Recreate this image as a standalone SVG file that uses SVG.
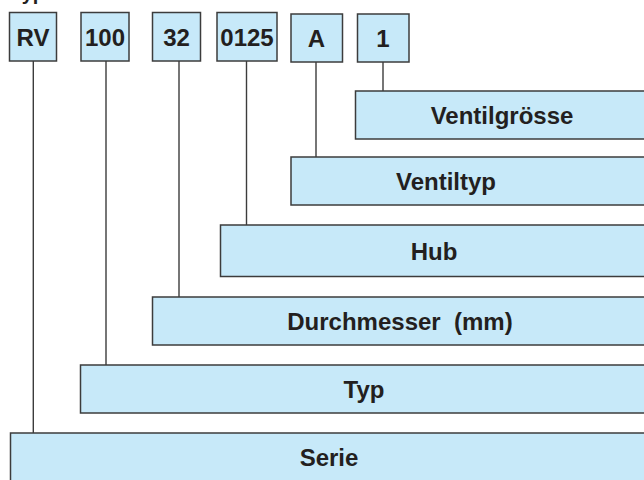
<svg xmlns="http://www.w3.org/2000/svg" width="644" height="480" viewBox="0 0 644 480">
<style>
.box{fill:#c7e9f9;stroke:#3c3c3c;stroke-width:1.5}
.ln{stroke:#3c3c3c;stroke-width:1.4;fill:none}
.t{font-family:"Liberation Sans",Arial,sans-serif;font-weight:bold;fill:#231f20;text-anchor:middle}
.code{font-size:24px}
.lab{font-size:24px}
</style>
<rect width="644" height="480" fill="#ffffff"/>
<text class="t" x="11" y="0" style="font-size:20px;text-anchor:start">Typ</text>
<g id="connectors">
<line class="ln" x1="33.3" y1="61" x2="33.3" y2="433"/>
<line class="ln" x1="106" y1="61" x2="106" y2="365"/>
<line class="ln" x1="179" y1="61" x2="179" y2="297"/>
<line class="ln" x1="246.5" y1="61" x2="246.5" y2="225"/>
<line class="ln" x1="316" y1="62" x2="316" y2="157"/>
<line class="ln" x1="383" y1="62" x2="383" y2="91"/>
</g>
<g id="c-rv"><rect class="box" x="9.5" y="12.5" width="47" height="48.5"/><text class="t code" x="33" y="46">RV</text></g>
<g id="c-100"><rect class="box" x="81" y="12.5" width="48" height="48.5"/><text class="t code" x="105" y="46">100</text></g>
<g id="c-32"><rect class="box" x="152.5" y="12.5" width="48" height="48.5"/><text class="t code" x="176.5" y="46">32</text></g>
<g id="c-0125"><rect class="box" x="217" y="12.5" width="60" height="48.5"/><text class="t code" x="247" y="46">0125</text></g>
<g id="c-a"><rect class="box" x="291" y="14" width="51.5" height="48"/><text class="t code" x="316.5" y="47">A</text></g>
<g id="c-1"><rect class="box" x="357.5" y="14" width="51.5" height="48"/><text class="t code" x="383" y="47">1</text></g>
<g id="ventilgroesse"><rect class="box" x="355.5" y="91" width="300" height="48"/><text class="t lab" x="502" y="124">Ventilgrösse</text></g>
<g id="ventiltyp"><rect class="box" x="291" y="157" width="370" height="48"/><text class="t lab" x="446" y="190">Ventiltyp</text></g>
<g id="hub"><rect class="box" x="220.5" y="225" width="440" height="51.5"/><text class="t lab" x="434" y="260">Hub</text></g>
<g id="durchmesser"><rect class="box" x="152.5" y="297" width="510" height="48"/><text class="t lab" x="400" y="330" xml:space="preserve">Durchmesser  (mm)</text></g>
<g id="typ"><rect class="box" x="80.5" y="365" width="580" height="48"/><text class="t lab" x="364" y="398">Typ</text></g>
<g id="serie"><rect class="box" x="10.5" y="433" width="650" height="60"/><text class="t lab" x="329" y="466">Serie</text></g>
</svg>
